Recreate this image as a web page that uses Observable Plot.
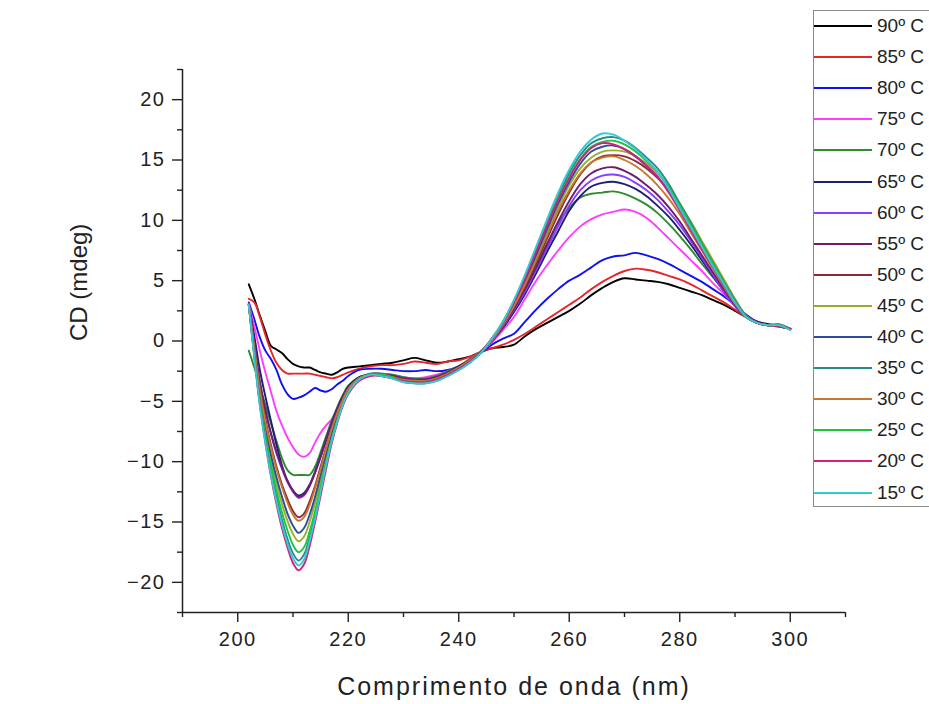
<!DOCTYPE html>
<html>
<head>
<meta charset="utf-8">
<script src="https://cdn.jsdelivr.net/npm/d3@7"></script>
<script src="https://cdn.jsdelivr.net/npm/@observablehq/plot@0.6"></script>
<style>
  body { margin: 0; background: #fff; }
  #wrap { position: relative; width: 929px; height: 704px; overflow: hidden; font-family: "Liberation Sans", Arial, sans-serif; color: #222; }
  #legend { position: absolute; left: 813px; top: 10px; width: 140px; height: 497px; border: 1px solid #8a8a8a; background: #fff; box-sizing: border-box; }
  .row { position: absolute; left: 0; height: 24px; display: flex; align-items: center; font-size: 19px; letter-spacing: 0px; white-space: nowrap; }
  .row span.sw { display: inline-block; width: 58px; height: 2px; margin-right: 5px; }
  g[aria-label="x-axis tick label"] text, g[aria-label="y-axis tick label"] text { letter-spacing: 1.5px; }
  .xt { letter-spacing: 2px; }
</style>
</head>
<body>
<div id="wrap"><div id="legend"></div></div>
<script>
// Wavelength sample points (nm)
const wavelength = [202,203,204,205,206,207,208,209,210,
  211,212,213,214,215,216,217,218,219,220,
  222,224,226,228,230,232,234,236,238,240,
  242,244,246,248,250,252,254,256,258,260,
  262,264,266,268,270,272,274,276,278,280,
  282,284,286,288,290,292,294,296,298,300];

const temps  = ["90º C","85º C","80º C","75º C","70º C","65º C","60º C","55º C","50º C","45º C","40º C","35º C","30º C","25º C","20º C","15º C"];
const colors = ["#000000","#e8262a","#1010f0","#ff3cff","#2e8b2e","#1e1e78","#8a3cff","#6b1f6b","#8c2a3c","#9aae2a","#2c4c9c","#2a8c8c","#c47a2c","#1ec43c","#d41e82","#34c8d2"];

// CD (mdeg) per temperature
const cd90 = [4.7,3.5,2.1,0.8,-0.4,-0.7,-1.0,-1.5,-1.9,
  -2.1,-2.2,-2.2,-2.4,-2.6,-2.7,-2.8,-2.6,-2.3,-2.2,
  -2.1,-2.0,-1.9,-1.8,-1.6,-1.4,-1.6,-1.8,-1.7,-1.5,
  -1.3,-0.9,-0.6,-0.5,-0.3,0.4,1.0,1.5,2.0,2.5,
  3.1,3.8,4.4,4.9,5.2,5.1,5.0,4.9,4.7,4.4,
  4.1,3.8,3.4,3.0,2.5,2.0,1.6,1.4,1.3,1.0];
const cd85 = [3.5,3.2,2.0,0.5,-0.8,-1.8,-2.4,-2.7,-2.7,
  -2.7,-2.7,-2.7,-2.8,-2.9,-3.0,-3.1,-3.0,-2.8,-2.6,
  -2.3,-2.1,-2.0,-2.0,-1.9,-1.7,-1.8,-1.9,-1.7,-1.6,
  -1.3,-0.9,-0.6,-0.3,0.1,0.6,1.2,1.8,2.4,3.0,
  3.6,4.3,4.9,5.4,5.8,6.0,5.9,5.7,5.4,5.1,
  4.7,4.2,3.7,3.2,2.6,2.0,1.6,1.3,1.2,1.0];
const cd80 = [3.2,1.8,0.3,-0.8,-1.5,-2.4,-3.6,-4.4,-4.8,
  -4.7,-4.5,-4.2,-3.9,-4.1,-4.2,-4.0,-3.6,-3.3,-2.9,
  -2.4,-2.3,-2.3,-2.4,-2.5,-2.5,-2.4,-2.5,-2.4,-2.1,
  -1.6,-1.0,-0.3,0.2,0.6,1.6,2.6,3.5,4.3,5.0,
  5.5,6.1,6.7,7.0,7.1,7.3,7.1,6.8,6.4,5.9,
  5.4,4.9,4.3,3.7,3.0,2.2,1.6,1.3,1.2,1.0];
const cd75 = [3.1,1.2,-0.8,-2.6,-4.2,-5.8,-7.0,-8.0,-8.8,
  -9.4,-9.6,-9.3,-8.4,-7.6,-7.0,-6.5,-5.8,-4.9,-4.0,
  -3.1,-2.7,-2.7,-2.8,-3.0,-3.1,-3.0,-2.8,-2.5,-2.1,
  -1.5,-0.9,-0.1,0.9,2.0,3.5,5.0,6.3,7.5,8.6,
  9.5,10.1,10.5,10.7,10.9,10.7,10.2,9.4,8.5,7.6,
  6.7,5.8,4.8,3.9,2.9,2.0,1.5,1.3,1.3,1.0];
const cd70 = [-0.8,-2.2,-3.8,-5.3,-6.8,-8.3,-9.7,-10.7,-11.1,
  -11.1,-11.1,-11.1,-10.4,-9.2,-7.9,-6.6,-5.5,-4.5,-3.7,
  -3.0,-2.7,-2.7,-2.8,-3.0,-3.1,-3.1,-2.9,-2.5,-2.1,
  -1.5,-0.9,0.0,1.1,2.6,4.4,6.3,8.1,9.8,11.0,
  11.9,12.2,12.3,12.4,12.2,11.8,11.3,10.6,9.7,8.7,
  7.6,6.4,5.3,4.2,3.1,2.1,1.5,1.3,1.3,1.0];
const cd65 = [3.0,0.4,-2.4,-4.6,-6.6,-8.6,-10.3,-11.6,-12.4,
  -12.8,-12.6,-11.9,-10.8,-9.5,-8.1,-6.8,-5.6,-4.6,-3.8,
  -3.0,-2.8,-2.8,-2.9,-3.1,-3.2,-3.2,-3.0,-2.6,-2.1,
  -1.6,-0.9,0.0,1.1,2.4,3.9,5.6,7.4,9.1,10.8,
  12.0,12.8,13.1,13.2,13.0,12.6,12.0,11.2,10.3,9.2,
  8.0,6.7,5.4,4.1,2.9,2.0,1.5,1.3,1.3,1.0];
const cd60 = [3.0,-0.3,-3.4,-5.8,-7.7,-9.3,-10.6,-11.7,-12.5,
  -13.0,-12.8,-12.0,-10.9,-9.6,-8.2,-6.9,-5.7,-4.7,-3.9,
  -3.1,-2.8,-2.8,-2.9,-3.1,-3.2,-3.2,-3.0,-2.6,-2.2,
  -1.6,-0.9,0.0,1.2,2.6,4.1,5.9,7.7,9.5,11.2,
  12.5,13.3,13.7,13.8,13.6,13.1,12.5,11.7,10.7,9.6,
  8.3,6.9,5.5,4.1,2.9,2.0,1.5,1.3,1.3,1.0];
const cd55 = [3.0,-0.2,-3.4,-5.7,-7.6,-9.2,-10.5,-11.6,-12.4,
  -12.9,-12.7,-12.0,-10.9,-9.6,-8.2,-6.9,-5.7,-4.7,-3.9,
  -3.1,-2.8,-2.8,-2.9,-3.1,-3.2,-3.2,-3.0,-2.6,-2.2,
  -1.6,-0.9,0.1,1.3,2.7,4.3,6.1,8.0,9.9,11.6,
  13.0,13.9,14.3,14.4,14.1,13.6,12.9,12.1,11.1,9.9,
  8.5,7.1,5.7,4.3,3.0,2.0,1.5,1.3,1.3,1.0];
const cd50 = [3.0,-0.5,-3.9,-6.5,-8.6,-10.4,-11.9,-13.1,-14.1,
  -14.6,-14.3,-13.3,-12.0,-10.4,-8.8,-7.3,-6.0,-4.9,-4.0,
  -3.1,-2.8,-2.8,-3.0,-3.2,-3.3,-3.3,-3.1,-2.7,-2.2,
  -1.6,-0.9,0.1,1.3,2.8,4.5,6.5,8.5,10.5,12.3,
  13.8,14.8,15.3,15.4,15.3,14.9,14.3,13.5,12.5,11.2,
  9.7,8.1,6.5,5.0,3.4,2.1,1.5,1.3,1.3,1.0];
const cd45 = [3.0,-0.9,-4.6,-7.4,-9.8,-11.8,-13.5,-14.9,-16.0,
  -16.6,-16.2,-15.0,-13.4,-11.6,-9.7,-7.9,-6.4,-5.1,-4.1,
  -3.1,-2.8,-2.8,-3.0,-3.3,-3.4,-3.4,-3.2,-2.8,-2.3,
  -1.7,-0.9,0.1,1.4,3.0,4.9,7.0,9.1,11.1,12.9,
  14.3,15.2,15.7,15.8,15.7,15.3,14.7,13.9,12.8,11.4,
  9.9,8.3,6.7,5.1,3.5,2.1,1.5,1.3,1.3,1.0];
const cd40 = [3.0,-0.8,-4.4,-7.1,-9.4,-11.3,-12.9,-14.3,-15.3,
  -15.9,-15.5,-14.4,-12.9,-11.1,-9.3,-7.6,-6.2,-5.0,-4.0,
  -3.1,-2.8,-2.8,-3.0,-3.3,-3.4,-3.4,-3.2,-2.8,-2.3,
  -1.7,-0.9,0.1,1.5,3.1,5.0,7.1,9.3,11.4,13.2,
  14.7,15.7,16.1,16.2,15.9,15.3,14.5,13.6,12.4,11.0,
  9.4,7.8,6.2,4.7,3.3,2.0,1.5,1.3,1.3,1.0];
const cd35 = [3.0,-1.3,-5.2,-8.2,-10.8,-12.9,-14.8,-16.4,-17.6,
  -18.2,-17.7,-16.3,-14.5,-12.4,-10.3,-8.3,-6.7,-5.3,-4.3,
  -3.2,-2.8,-2.9,-3.1,-3.4,-3.5,-3.5,-3.3,-2.9,-2.4,
  -1.8,-1.0,0.2,1.6,3.3,5.4,7.6,9.9,12.0,13.9,
  15.4,16.4,16.8,16.9,16.6,16.0,15.2,14.3,13.0,11.4,
  9.8,8.1,6.5,4.9,3.4,2.1,1.5,1.3,1.4,1.0];
const cd30 = [3.0,-0.6,-4.1,-6.7,-8.8,-10.6,-12.1,-13.4,-14.4,
  -14.9,-14.6,-13.6,-12.2,-10.6,-8.9,-7.3,-6.0,-4.9,-4.0,
  -3.1,-2.8,-2.8,-3.0,-3.2,-3.3,-3.3,-3.1,-2.7,-2.2,
  -1.6,-0.9,0.1,1.4,2.9,4.7,6.7,8.8,10.8,12.5,
  13.9,14.8,15.2,15.3,15.0,14.5,13.8,12.9,11.8,10.5,
  9.0,7.5,6.0,4.5,3.1,2.0,1.5,1.3,1.3,1.0];
const cd25 = [3.0,-1.1,-4.9,-7.8,-10.3,-12.4,-14.2,-15.7,-16.9,
  -17.5,-17.1,-15.8,-14.1,-12.1,-10.1,-8.2,-6.6,-5.3,-4.3,
  -3.2,-2.8,-2.8,-3.0,-3.3,-3.4,-3.4,-3.2,-2.8,-2.3,
  -1.7,-0.9,0.2,1.6,3.3,5.3,7.5,9.7,11.8,13.6,
  15.1,16.1,16.5,16.6,16.3,15.7,14.9,14.0,12.7,11.2,
  9.6,8.0,6.4,4.8,3.3,2.0,1.5,1.3,1.3,1.0];
const cd20 = [3.1,-1.2,-5.2,-8.4,-11.2,-13.5,-15.5,-17.1,-18.4,
  -19.0,-18.5,-17.0,-15.0,-12.8,-10.6,-8.5,-6.8,-5.4,-4.4,
  -3.3,-2.9,-2.9,-3.1,-3.3,-3.4,-3.4,-3.2,-2.8,-2.3,
  -1.7,-0.9,0.2,1.5,3.2,5.2,7.4,9.6,11.7,13.5,
  15.0,16.0,16.4,16.3,15.9,15.3,14.5,13.6,12.3,10.8,
  9.2,7.6,6.1,4.6,3.2,2.0,1.5,1.3,1.2,1.0];
const cd15 = [3.0,-1.4,-5.4,-8.5,-11.1,-13.3,-15.2,-16.8,-18.0,
  -18.6,-18.1,-16.6,-14.7,-12.5,-10.3,-8.3,-6.7,-5.3,-4.3,
  -3.2,-2.8,-2.9,-3.1,-3.4,-3.5,-3.5,-3.3,-2.9,-2.4,
  -1.8,-1.0,0.2,1.6,3.4,5.5,7.8,10.1,12.3,14.2,
  15.7,16.7,17.2,17.1,16.6,15.9,15.0,14.0,12.6,11.0,
  9.4,7.8,6.2,4.7,3.2,2.0,1.5,1.3,1.3,0.9];

const series = [cd90,cd85,cd80,cd75,cd70,cd65,cd60,cd55,cd50,cd45,cd40,cd35,cd30,cd25,cd20,cd15];

const xMajor = [200,220,240,260,280,300];
const xMinor = [190,210,230,250,270,290,310];
const yMajor = [-20,-15,-10,-5,0,5,10,15,20];
const yMinor = [-22.5,-17.5,-12.5,-7.5,-2.5,2.5,7.5,12.5,17.5,22.5];

const rows = [];
series.forEach((vals, s) => vals.forEach((v, i) => rows.push({nm: wavelength[i], cd: v, temp: temps[s]})));

const chart = Plot.plot({
  width: 929, height: 704,
  marginLeft: 182, marginRight: 84, marginTop: 69, marginBottom: 92,
  style: {fontFamily: '"Liberation Sans", Arial, sans-serif', fontSize: "20px", color: "#222", background: "transparent", overflow: "visible"},
  x: {domain: [190, 310]},
  y: {domain: [-22.5, 22.5]},
  color: {domain: temps, range: colors},
  marks: [
    Plot.line(rows, {x: "nm", y: "cd", z: "temp", stroke: "temp", strokeWidth: 1.9, curve: "catmull-rom"}),
    Plot.ruleX([190], {stroke: "#222", strokeWidth: 1.5}),
    Plot.ruleY([-22.5], {stroke: "#222", strokeWidth: 1.5}),
    Plot.axisX(xMajor, {tickSize: 10, tickPadding: 9, strokeWidth: 1.4, label: null, fontSize: 20}),
    Plot.axisX(xMinor, {tickSize: 5, strokeWidth: 1.4, tickFormat: () => "", label: null}),
    Plot.axisY(yMajor, {tickSize: 10, tickPadding: 7, strokeWidth: 1.4, label: null, fontSize: 20}),
    Plot.axisY(yMinor, {tickSize: 5, strokeWidth: 1.4, tickFormat: () => "", label: null}),
    Plot.text(["Comprimento de onda (nm)"], {frameAnchor: "bottom", dy: 82, fontSize: 25, className: "xt"}),
    Plot.text(["CD (mdeg)"], {frameAnchor: "left", dx: -103, rotate: -90, fontSize: 24})
  ]
});
document.getElementById("wrap").prepend(chart);

const legend = document.getElementById("legend");
temps.forEach((t, i) => {
  const row = document.createElement("div");
  row.className = "row";
  row.style.top = (25 + i * 31.1 - 10 - 12) + "px";
  const sw = document.createElement("span");
  sw.className = "sw";
  sw.style.background = colors[i];
  row.appendChild(sw);
  row.appendChild(document.createTextNode(t));
  legend.appendChild(row);
});
</script>
</body>
</html>
